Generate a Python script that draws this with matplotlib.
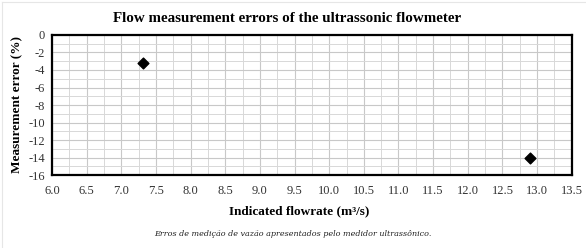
import matplotlib
matplotlib.use("Agg")
import matplotlib.pyplot as plt
from matplotlib.ticker import MultipleLocator
from matplotlib.lines import Line2D

flowrate = [7.32, 12.9]
error = [-3.2, -14.0]
x_ticks = [6.0, 6.5, 7.0, 7.5, 8.0, 8.5, 9.0, 9.5, 10.0, 10.5, 11.0, 11.5, 12.0, 12.5, 13.0, 13.5]
y_ticks = [0, -2, -4, -6, -8, -10, -12, -14, -16]

fig = plt.figure(figsize=(5.86, 2.48), dpi=100)
ax = fig.add_axes([0.0887, 0.294, 0.887, 0.565])
serif = "Liberation Serif"

ax.scatter(flowrate, error, marker="D", s=30, color="black", zorder=5)
ax.set_xlim(6.0, 13.5)
ax.set_ylim(-16, 0)
ax.set_xticks(x_ticks)
ax.set_xticklabels([f"{v:.1f}" for v in x_ticks])
ax.set_yticks(y_ticks)
ax.set_yticklabels([str(v) for v in y_ticks])
ax.xaxis.set_minor_locator(MultipleLocator(0.25))
ax.yaxis.set_minor_locator(MultipleLocator(1))
ax.grid(which="major", color="#c8c8c8", linewidth=0.8)
ax.grid(which="minor", color="#d8d8d8", linewidth=0.7)
ax.set_axisbelow(True)
ax.tick_params(axis="x", which="both", length=0, pad=7)
ax.tick_params(axis="y", which="both", length=0, pad=5)
for lab in ax.get_xticklabels() + ax.get_yticklabels():
    lab.set_fontfamily(serif)
    lab.set_fontsize(9)
    lab.set_color("#333333")
for sp in ax.spines.values():
    sp.set_linewidth(1.6)
    sp.set_color("black")

fig.text(0.49, 0.925, "Flow measurement errors of the ultrassonic flowmeter",
         ha="center", va="center", fontfamily=serif, fontweight="bold", fontsize=10.8)
fig.text(0.51, 0.148, "Indicated flowrate (m³/s)", ha="center", va="center",
         fontfamily=serif, fontweight="bold", fontsize=9.5)
fig.text(0.029, 0.58, "Measurement error (%)", ha="center", va="center", rotation=90,
         fontfamily=serif, fontweight="bold", fontsize=9.5)
fig.text(0.50, 0.058, "Erros de medição de vazão apresentados pelo medidor ultrassônico.",
         ha="center", va="center", fontfamily="DejaVu Serif", style="italic", fontsize=5.8,
         color="#222222")

fig.add_artist(Line2D([0.004, 1.0], [0.99, 0.99], transform=fig.transFigure, color="#e6e6e6", linewidth=0.8))
fig.add_artist(Line2D([0.004, 0.004], [0.0, 0.99], transform=fig.transFigure, color="#e6e6e6", linewidth=0.8))

fig.savefig("out.png", dpi=100)
